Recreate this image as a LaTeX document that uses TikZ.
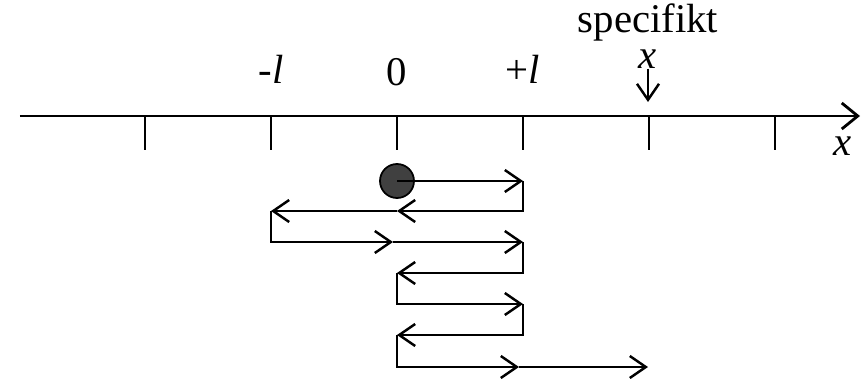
\documentclass[tikz,border=0pt]{standalone}
\usepackage{fontspec}
\setmainfont{Liberation Serif}
\usetikzlibrary{arrows.meta}
\tikzstyle{every node}=[font=\fontsize{11.6}{14}\selectfont, inner sep=0pt]
\tikzstyle{axis} = [line width=0.8pt, -{Straight Barb[length=1.6mm, width=2.6mm]}]
\tikzstyle{tick} = [line width=0.6pt]
\tikzstyle{arrow} = [line width=0.7pt, -{Straight Barb[length=1.6mm, width=2.2mm]}]
\tikzstyle{ball} = [circle, draw=black, line width=0.5pt, fill=black!75, minimum size=0.34cm, inner sep=0pt]
\tikzstyle{label} = [anchor=base]

\begin{document}
\begin{tikzpicture}
        \useasboundingbox (-3.97,-2.62) rectangle (4.64,1.16);

        % axis with ticks
        \coordinate (axstart) at (-3.77,0);
        \coordinate (axend) at (4.63,0);
        \draw [axis] (axstart) -- (axend);
        \foreach \i in {-2,...,3}
          \draw [tick] (\i*1.26,0) -- (\i*1.26,-0.34);

        \node (minusl) [label] at (-1.26,0.33) {-\textit{l}};
        \node (zero) [label] at (0,0.31) {0};
        \node (plusl) [label] at (1.26,0.33) {+\textit{l}};
        \node (spec) [label] at (2.51,0.84) {specifikt};
        \node (xspec) [label] at (2.51,0.48) {\textit{x}};
        \node (xaxis) [label] at (4.46,-0.39) {\textit{x}};
        \coordinate (target) at (2.51,0.14);
        \draw [arrow] (xspec.south) -- (target);

        % walk
        \node (ball) [ball] at (0,-0.65) {};
        \coordinate (p1) at (1.26,-0.65);
        \coordinate (p2) at (1.26,-0.95);
        \coordinate (m2) at (0,-0.95);
        \coordinate (q2) at (-1.26,-0.95);
        \coordinate (p3) at (-1.26,-1.26);
        \coordinate (m3) at (-0.04,-1.26);
        \coordinate (q3) at (1.26,-1.26);
        \coordinate (p4) at (1.26,-1.57);
        \coordinate (q4) at (0,-1.57);
        \coordinate (p5) at (0,-1.88);
        \coordinate (q5) at (1.26,-1.88);
        \coordinate (p6) at (1.26,-2.19);
        \coordinate (q6) at (0,-2.19);
        \coordinate (p7) at (0,-2.51);
        \coordinate (m7) at (1.22,-2.51);
        \coordinate (q7) at (2.51,-2.51);

        \draw [arrow] (ball.center) -- (p1);
        \draw [arrow] (p1) -- (p2) -- (m2);
        \draw [arrow] (m2) -- (q2);
        \draw [arrow] (q2) -- (p3) -- (m3);
        \draw [arrow] (m3) -- (q3);
        \draw [arrow] (q3) -- (p4) -- (q4);
        \draw [arrow] (q4) -- (p5) -- (q5);
        \draw [arrow] (q5) -- (p6) -- (q6);
        \draw [arrow] (q6) -- (p7) -- (m7);
        \draw [arrow] (m7) -- (q7);
\end{tikzpicture}
\end{document}
